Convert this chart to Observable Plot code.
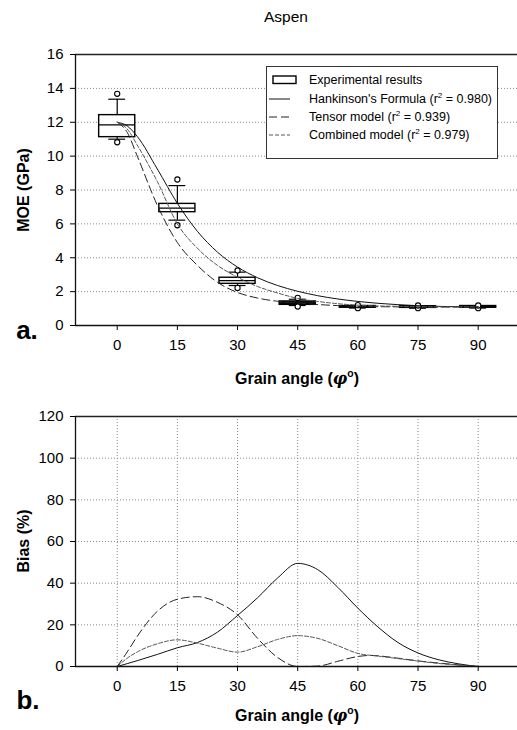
<!DOCTYPE html>
<html><head><meta charset="utf-8">
<script src="https://cdn.jsdelivr.net/npm/d3@7"></script>
<script src="https://cdn.jsdelivr.net/npm/@observablehq/plot@0.6"></script>
<style>
body{margin:0;background:#fff;font-family:"Liberation Sans",Arial,sans-serif;color:#000;}
#root{position:relative;width:517px;height:730px;overflow:hidden;background:#fff;}
.abs{position:absolute;white-space:nowrap;}
.ctr{transform:translate(-50%,-50%);}
.rot{transform:translate(-50%,-50%) rotate(-90deg);}
.bold{font-weight:bold;}
#legend{position:absolute;left:266px;top:66px;width:232px;height:93px;border:1px solid #333;background:#fff;box-sizing:border-box;font-size:12.5px;}
#legend .row{position:absolute;left:0;height:18px;display:flex;align-items:center;white-space:nowrap;}
#legend svg{margin-left:1px;margin-right:11px;flex:none;}
sup{font-size:0.65em;line-height:0;}
</style></head><body><div id="root"></div>
<script>
// ---------- data ----------
const boxAngles = [0, 15, 30, 45, 60, 75, 90];
const boxQ1     = [11.12, 6.69, 2.46, 1.22, 1.05, 1.04, 1.05];
const boxMedian = [11.85, 6.93, 2.65, 1.32, 1.10, 1.09, 1.10];
const boxQ3     = [12.42, 7.18, 2.82, 1.42, 1.15, 1.14, 1.15];
const whiskLow  = [11.00, 6.22, 2.36, 1.18, 1.03, 1.02, 1.03];
const whiskHigh = [13.36, 8.26, 3.15, 1.55, 1.18, 1.17, 1.17];
const outLow    = [10.82, 5.92, 2.22, 1.12, 1.02, 1.02, 1.02];
const outHigh   = [13.68, 8.62, 3.25, 1.63, 1.20, 1.18, 1.18];

const modelAngles = [0, 2.5, 5, 10, 15, 20, 25, 30, 35, 40, 45, 50, 60, 70, 80, 90];
const hankinsonMOE = [12, 11.78, 11.16, 9.24, 7.21, 5.56, 4.33, 3.45, 2.82, 2.36, 2.02, 1.76, 1.42, 1.23, 1.13, 1.10];
const tensorMOE    = [12, 11.40, 10.00, 7.10, 4.90, 3.55, 2.55, 1.95, 1.62, 1.43, 1.33, 1.24, 1.13, 1.10, 1.09, 1.10];
const combinedMOE  = [12, 11.60, 10.65, 8.50, 6.00, 4.56, 3.55, 2.85, 2.30, 1.92, 1.60, 1.42, 1.20, 1.13, 1.10, 1.10];

const hankBiasAngles = [0, 5, 10, 15, 20, 25, 30, 35, 40, 45, 50, 55, 60, 65, 70, 75, 80, 85, 90];
const hankBias       = [0, 2.8, 5.8, 9.0, 11.5, 16.5, 24.5, 33, 42.5, 49.5, 46.5, 38, 28, 19, 11.5, 6.5, 3.3, 1.3, 0];
const tensorBiasAngles = [0, 2.5, 5, 10, 15, 20, 25, 30, 35, 40, 45, 50, 55, 60, 63, 70, 75, 80, 85, 90];
const tensorBias       = [0, 7, 14.5, 26.5, 32.3, 33.5, 30.8, 24.8, 13.5, 4.3, 0, 0.2, 2.5, 4.8, 5.3, 4.0, 2.7, 1.7, 0.8, 0];
const combBiasAngles = [0, 2.5, 5, 10, 15, 20, 25, 30, 35, 40, 45, 50, 55, 60, 65, 70, 75, 80, 85, 90];
const combBias       = [0, 4, 7, 10.9, 12.8, 11.2, 8.8, 6.9, 9.5, 13, 14.8, 13.5, 10, 6.3, 5.0, 3.8, 2.6, 1.5, 0.7, 0];

const xTicks = [0, 15, 30, 45, 60, 75, 90];
const yTicksTop = [0, 2, 4, 6, 8, 10, 12, 14, 16];
const yTicksBottom = [0, 20, 40, 60, 80, 100, 120];

const seriesNames = ["Experimental results", "Hankinson's Formula", "Tensor model", "Combined model"];
const r2Values = [null, "0.980", "0.939", "0.979"];

// ---------- build ----------
const root = document.getElementById("root");
const font = '"Liberation Sans", Arial, sans-serif';
const xDomain = [-10.4, 99.8];
const boxHalf = 4.5, capHalf = 2.1;
const tickFont = 15;
const styleLine = {solid: {stroke: "#111", strokeWidth: 1}, tensor: {stroke: "#222", strokeWidth: 1, strokeDasharray: "8,4"}, comb: {stroke: "#555", strokeWidth: 1, strokeDasharray: "4,2"}};

const boxes = boxAngles.map((a, i) => ({a, q1: boxQ1[i], med: boxMedian[i], q3: boxQ3[i], lo: whiskLow[i], hi: whiskHigh[i]}));
const outliers = boxAngles.flatMap((a, i) => [{a, v: outLow[i]}, {a, v: outHigh[i]}]);
const mk = (xs, ys) => xs.map((a, i) => ({a, v: ys[i]}));

const topPlot = Plot.plot({
  width: 517, height: 395,
  marginLeft: 75, marginRight: 0, marginTop: 54, marginBottom: 70,
  x: {domain: xDomain},
  y: {domain: [0, 16]},
  style: {fontFamily: font, fontSize: tickFont + "px", color: "#000", background: "transparent"},
  marks: [
    Plot.gridY(yTicksTop.filter(t => t > 0 && t < 16), {stroke: "#888", strokeOpacity: 1, strokeDasharray: "1,2"}),
    Plot.ruleY([16], {stroke: "#222", strokeWidth: 1.3}),
    Plot.ruleX([xDomain[0]], {stroke: "#111", strokeWidth: 1.3}),
    Plot.axisX({ticks: xTicks, tickSize: 5, tickPadding: 9, label: null, fontSize: tickFont}),
    Plot.axisY({ticks: yTicksTop, tickSize: 5, tickPadding: 7, label: null, fontSize: tickFont}),
    Plot.ruleX(boxes, {x: "a", y1: "q3", y2: "hi", stroke: "#000", strokeWidth: 1.2}),
    Plot.ruleX(boxes, {x: "a", y1: "lo", y2: "q1", stroke: "#000", strokeWidth: 1.2}),
    Plot.ruleY(boxes, {y: "hi", x1: d => d.a - capHalf, x2: d => d.a + capHalf, stroke: "#000", strokeWidth: 1.2}),
    Plot.ruleY(boxes, {y: "lo", x1: d => d.a - capHalf, x2: d => d.a + capHalf, stroke: "#000", strokeWidth: 1.2}),
    Plot.rect(boxes, {x1: d => d.a - boxHalf, x2: d => d.a + boxHalf, y1: "q1", y2: "q3", fill: d => d.q3 - d.q1 < 0.25 ? "#222" : "white", stroke: "#000", strokeWidth: 1.4}),
    Plot.ruleY(boxes, {y: "med", x1: d => d.a - boxHalf, x2: d => d.a + boxHalf, stroke: "#000", strokeWidth: 1.2}),
    Plot.dot(outliers, {x: "a", y: "v", r: 2.6, stroke: "#000", fill: "white", strokeWidth: 1.1}),
    Plot.line(mk(modelAngles, hankinsonMOE), {x: "a", y: "v", curve: "monotone-x", ...styleLine.solid}),
    Plot.line(mk(modelAngles, tensorMOE), {x: "a", y: "v", curve: "monotone-x", ...styleLine.tensor}),
    Plot.line(mk(modelAngles, combinedMOE), {x: "a", y: "v", curve: "monotone-x", ...styleLine.comb}),
    Plot.ruleY([0], {stroke: "#111", strokeWidth: 1.4})
  ]
});
topPlot.style.position = "absolute"; topPlot.style.left = "0px"; topPlot.style.top = "0px";
root.appendChild(topPlot);

const botPlot = Plot.plot({
  width: 517, height: 335,
  marginLeft: 75, marginRight: 0, marginTop: 21, marginBottom: 64,
  x: {domain: xDomain},
  y: {domain: [0, 120]},
  style: {fontFamily: font, fontSize: tickFont + "px", color: "#000", background: "transparent"},
  marks: [
    Plot.gridY(yTicksBottom.filter(t => t > 0 && t < 120), {stroke: "#888", strokeOpacity: 1, strokeDasharray: "1,2"}),
    Plot.gridX(xTicks, {stroke: "#888", strokeOpacity: 1, strokeDasharray: "1,2"}),
    Plot.ruleY([120], {stroke: "#222", strokeWidth: 1.3}),
    Plot.ruleX([xDomain[0]], {stroke: "#111", strokeWidth: 1.3}),
    Plot.axisX({ticks: xTicks, tickSize: 5, tickPadding: 9, label: null, fontSize: tickFont}),
    Plot.axisY({ticks: yTicksBottom, tickSize: 5, tickPadding: 7, label: null, fontSize: tickFont}),
    Plot.line(mk(hankBiasAngles, hankBias), {x: "a", y: "v", curve: "monotone-x", ...styleLine.solid}),
    Plot.line(mk(tensorBiasAngles, tensorBias), {x: "a", y: "v", curve: "monotone-x", ...styleLine.tensor}),
    Plot.line(mk(combBiasAngles, combBias), {x: "a", y: "v", curve: "monotone-x", ...styleLine.comb}),
    Plot.ruleY([0], {stroke: "#111", strokeWidth: 1.4})
  ]
});
botPlot.style.position = "absolute"; botPlot.style.left = "0px"; botPlot.style.top = "395px";
root.appendChild(botPlot);

function addText(html, x, y, cls, size) {
  const d = document.createElement("div");
  d.className = "abs " + cls;
  d.style.left = x + "px"; d.style.top = y + "px"; d.style.fontSize = size + "px";
  d.innerHTML = html;
  root.appendChild(d);
  return d;
}
addText("Aspen", 286, 17, "ctr", 15.5);
addText("MOE (GPa)", 24, 190, "rot bold", 16);
addText("Bias (%)", 24, 541, "rot bold", 16);
const xTitle = "Grain angle (<i style='font-family:\"DejaVu Serif\",serif'>φ</i><sup>o</sup>)";
addText(xTitle, 297, 378, "ctr bold", 16);
addText(xTitle, 297, 715, "ctr bold", 16);
addText("a.", 27, 330, "ctr bold", 26);
addText("b.", 28, 700, "ctr bold", 26);

// legend
const leg = document.createElement("div");
leg.id = "legend";
const rowY = [4, 23, 41, 59];
const symbols = [
  `<svg width="30" height="10"><rect x="5" y="1" width="23" height="7.5" fill="white" stroke="#000" stroke-width="1.4"/></svg>`,
  `<svg width="30" height="10"><line x1="1" y1="5" x2="22" y2="5" stroke="#111" stroke-width="1"/></svg>`,
  `<svg width="30" height="10"><line x1="1" y1="5" x2="22" y2="5" stroke="#222" stroke-width="1" stroke-dasharray="8,4"/></svg>`,
  `<svg width="30" height="10"><line x1="1" y1="5" x2="22" y2="5" stroke="#555" stroke-width="1" stroke-dasharray="4,2"/></svg>`
];
seriesNames.forEach((name, i) => {
  const r = document.createElement("div");
  r.className = "row";
  r.style.top = rowY[i] + "px";
  const label = r2Values[i] ? `${name} (r<sup>2</sup> = ${r2Values[i]})` : name;
  r.innerHTML = symbols[i] + `<span>${label}</span>`;
  leg.appendChild(r);
});
root.appendChild(leg);
</script></body></html>
